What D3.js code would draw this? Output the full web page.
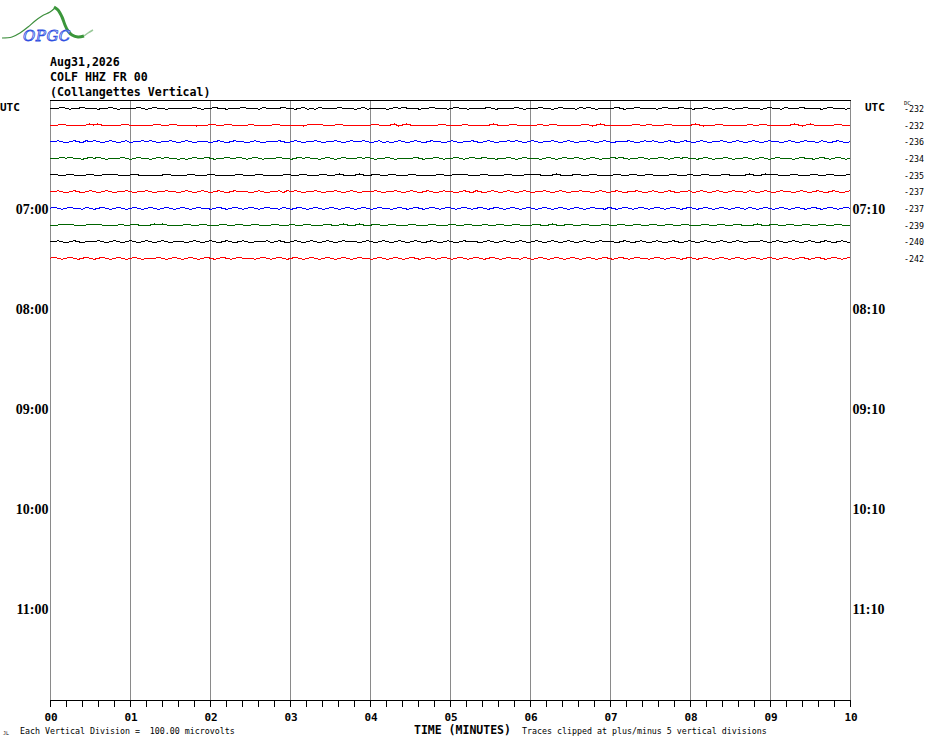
<!DOCTYPE html>
<html>
<head>
<meta charset="utf-8">
<script src="https://cdn.jsdelivr.net/npm/d3@7"></script>
<style>
  body { margin: 0; background: #fff; }
  svg { display: block; }
</style>
</head>
<body>
<script>
const titleLines = ["Aug31,2026", "COLF HHZ FR 00", "(Collangettes Vertical)"];
const leftHourLabels = ["UTC", "07:00", "08:00", "09:00", "10:00", "11:00"];
const rightHourLabels = ["UTC", "07:10", "08:10", "09:10", "10:10", "11:10"];
const minuteLabels = ["00", "01", "02", "03", "04", "05", "06", "07", "08", "09", "10"];
const dcValues = [-232, -232, -236, -234, -235, -237, -237, -239, -240, -242];

// one string per 10-minute row, each digit is a sample level (3 = zero, 1 step ~ 6 microvolts)
const traceStrings = [
  "33343233433323343233334323433233333343233433233343332433334332342324333343332342333323434333233433323433233334323333432333433234333243432333343233433332343334332334323343233433323433243334333323433323",
  "33343323334343233334323333343234323332333432343233342333343233332343433234333233334323342343233332343233342333234333343233334234323333343234333233334324332343233334323334323333342343233333432343323334332",
  "33432343243432343234233434323343234323332343234332343233343234323343233432343343234232343234323433234323343234323343432343233432343233432343233343234343234323432343233432343234323433234323433243234323",
  "33343433234343233343234332343433232343343233433432343233343323434332343234333434323343233334323343233432343343323343234333234323433432343233434323343233432343433234323343233432343234333234332343234323",
  "34323433234323434323343233333432333433234333323433234323333432343323433343233433343234323343233334323434323343233343323434323343233432343233343234323433323433243234323343233343234343233432334323433234",
  "33432343234323432334323343233433234323432343234333234323342434323343233432343233343233432343234323433234324323432343234323343234323343323432343233432343234323342343234323433243234323433234323432343234",
  "34323433243234323432343234323432343234332343234323432343324323432343234323432343234332343234323432343234323432343234323432343234323432343324323432343234323432343234323432343243234323432343234323432343",
  "33343433234343233342343323434332334323433234323432343233433243234332343234323433343234323343233433234323433243234323433234323432343234332343234323432343234323433234323432343323432343234323432343234323",
  "33432343233343234323432343234323332343234323432343233342343234323432343234333234323432343234323432343234333234323432343234323432343234323433323432343234323432343234323432343233343234323432343234323432",
  "34323432343234323432343233343234323432343234323433323432343234323432343234323433234323432343234323432343234323432343324323432343234323432343234323433234323432343234323432343234323432343234323432343234"
];

const traceColors = ["#000000", "#ff0000", "#0000ff", "#006400"];

const w = 930, h = 744;
const plotLeft = 50, plotRight = 850, plotTop = 100, plotBottom = 700;
const rowsPerPage = 36;

const svg = d3.select("body").append("svg")
  .attr("width", w)
  .attr("height", h)
  .style("font-family", "'DejaVu Sans Mono', monospace");

const xScale = d3.scaleLinear().domain([0, 10]).range([plotLeft, plotRight]);
const rowScale = d3.scaleLinear().domain([0, rowsPerPage]).range([plotTop, plotBottom]);
const uvScale = d3.scaleLinear().domain([-100, 100]).range([16.667, -16.667]);
const rowY = i => rowScale(i + 0.5);

// logo
const logo = svg.append("g");
const curve = d3.line().curve(d3.curveCatmullRom);
logo.append("path")
  .attr("d", curve([[2, 38], [12, 37], [20, 33], [28, 27], [35, 21], [42, 16], [50, 12], [55, 8]]))
  .attr("fill", "none").attr("stroke", "#3d8f3d").attr("stroke-width", 1.2);
logo.append("path")
  .attr("d", curve([[54, 7], [58, 10], [62, 17], [65, 25], [68, 31], [72, 35], [78, 37], [84, 36]]))
  .attr("fill", "none").attr("stroke", "#3a963a").attr("stroke-width", 3);
logo.append("path")
  .attr("d", curve([[84, 36], [88, 33], [93, 30]]))
  .attr("fill", "none").attr("stroke", "#98c898").attr("stroke-width", 1.5);
logo.append("text")
  .attr("x", 23).attr("y", 41)
  .attr("font-family", "'DejaVu Serif', serif")
  .attr("font-style", "italic")
  .attr("font-size", 15)
  .attr("letter-spacing", 0.5)
  .attr("fill", "#dfe8ff")
  .attr("stroke", "#2f4fe0")
  .attr("stroke-width", 0.8)
  .text("OPGC");

// title
svg.selectAll(".title")
  .data(titleLines)
  .enter().append("text")
  .attr("class", "title")
  .attr("x", 50)
  .attr("y", (d, i) => [66, 81, 95.5][i])
  .attr("font-size", 11.6)
  .attr("font-weight", "bold")
  .text(d => d);

// minute grid lines
svg.append("g")
  .selectAll("line")
  .data(d3.range(0, 11))
  .enter().append("line")
  .attr("x1", d => xScale(d) + 0.5).attr("x2", d => xScale(d) + 0.5)
  .attr("y1", plotTop).attr("y2", plotBottom)
  .attr("stroke", "#8a8a8a")
  .attr("stroke-width", 1);

// top border
svg.append("line")
  .attr("x1", plotLeft).attr("x2", plotRight + 1)
  .attr("y1", plotTop + 0.5).attr("y2", plotTop + 0.5)
  .attr("stroke", "#000");

// traces
const traceLine = d3.line()
  .x(d => d[0])
  .y(d => d[1]);

traceStrings.forEach((s, row) => {
  const vals = s.split("").map(c => (+c - 3) * 6);
  const n = vals.length;
  const pts = vals.map((v, i) => [xScale(i * 10 / (n - 1)), rowY(row) + uvScale(v)]);
  svg.append("path")
    .attr("d", traceLine(pts))
    .attr("fill", "none")
    .attr("stroke", traceColors[row % 4])
    .attr("stroke-width", 1)
    .attr("shape-rendering", "crispEdges");
});

// bottom axis with 12 s ticks
const xAxis = d3.axisBottom(xScale)
  .tickValues(d3.range(0, 51).map(i => i / 5))
  .tickSize(7)
  .tickSizeOuter(0)
  .tickFormat("");
const axisG = svg.append("g")
  .attr("transform", "translate(0," + plotBottom + ")")
  .call(xAxis);
axisG.selectAll("line, path").attr("stroke", "#000").attr("shape-rendering", "crispEdges");

svg.selectAll(".minute")
  .data(minuteLabels)
  .enter().append("text")
  .attr("class", "minute")
  .attr("x", (d, i) => xScale(i) + 1)
  .attr("y", 720.5)
  .attr("text-anchor", "middle")
  .attr("font-size", 11)
  .attr("font-weight", "bold")
  .text(d => d);

// hour labels
svg.selectAll(".lhour")
  .data(leftHourLabels)
  .enter().append("text")
  .attr("class", "lhour")
  .attr("x", (d, i) => i === 0 ? 0 : 48.5)
  .attr("y", (d, i) => i === 0 ? 111 : rowY(i * 6) + 5.5)
  .attr("text-anchor", (d, i) => i === 0 ? "start" : "end")
  .attr("font-family", (d, i) => i === 0 ? "'DejaVu Sans Mono', monospace" : "'Liberation Serif', serif")
  .attr("font-size", (d, i) => i === 0 ? 11 : 14)
  .attr("font-weight", "bold")
  .text(d => d);

svg.selectAll(".rhour")
  .data(rightHourLabels)
  .enter().append("text")
  .attr("class", "rhour")
  .attr("x", (d, i) => i === 0 ? 865 : 852.5)
  .attr("y", (d, i) => i === 0 ? 111 : rowY(i * 6) + 5.5)
  .attr("font-family", (d, i) => i === 0 ? "'DejaVu Sans Mono', monospace" : "'Liberation Serif', serif")
  .attr("font-size", (d, i) => i === 0 ? 11 : 14)
  .attr("font-weight", "bold")
  .text(d => d);

// DC offsets
svg.append("text")
  .attr("x", 904).attr("y", 104.5)
  .attr("font-size", 5.5)
  .text("DC");
svg.selectAll(".dc")
  .data(dcValues)
  .enter().append("text")
  .attr("class", "dc")
  .attr("x", 904)
  .attr("y", (d, i) => rowY(i) + 3.5)
  .attr("font-size", 8.3)
  .text(d => d);

// footer
svg.append("text")
  .attr("x", 3).attr("y", 735)
  .attr("font-size", 5)
  .text("JL");
svg.append("text")
  .attr("x", 20).attr("y", 733.5)
  .attr("font-size", 8.3)
  .attr("xml:space", "preserve")
  .text("Each Vertical Division =  100.00 microvolts");
svg.append("text")
  .attr("x", 414).attr("y", 733.5)
  .attr("font-size", 11.5)
  .attr("font-weight", "bold")
  .text("TIME (MINUTES)");
svg.append("text")
  .attr("x", 522).attr("y", 733.5)
  .attr("font-size", 8.3)
  .text("Traces clipped at plus/minus 5 vertical divisions");
</script>
</body>
</html>
